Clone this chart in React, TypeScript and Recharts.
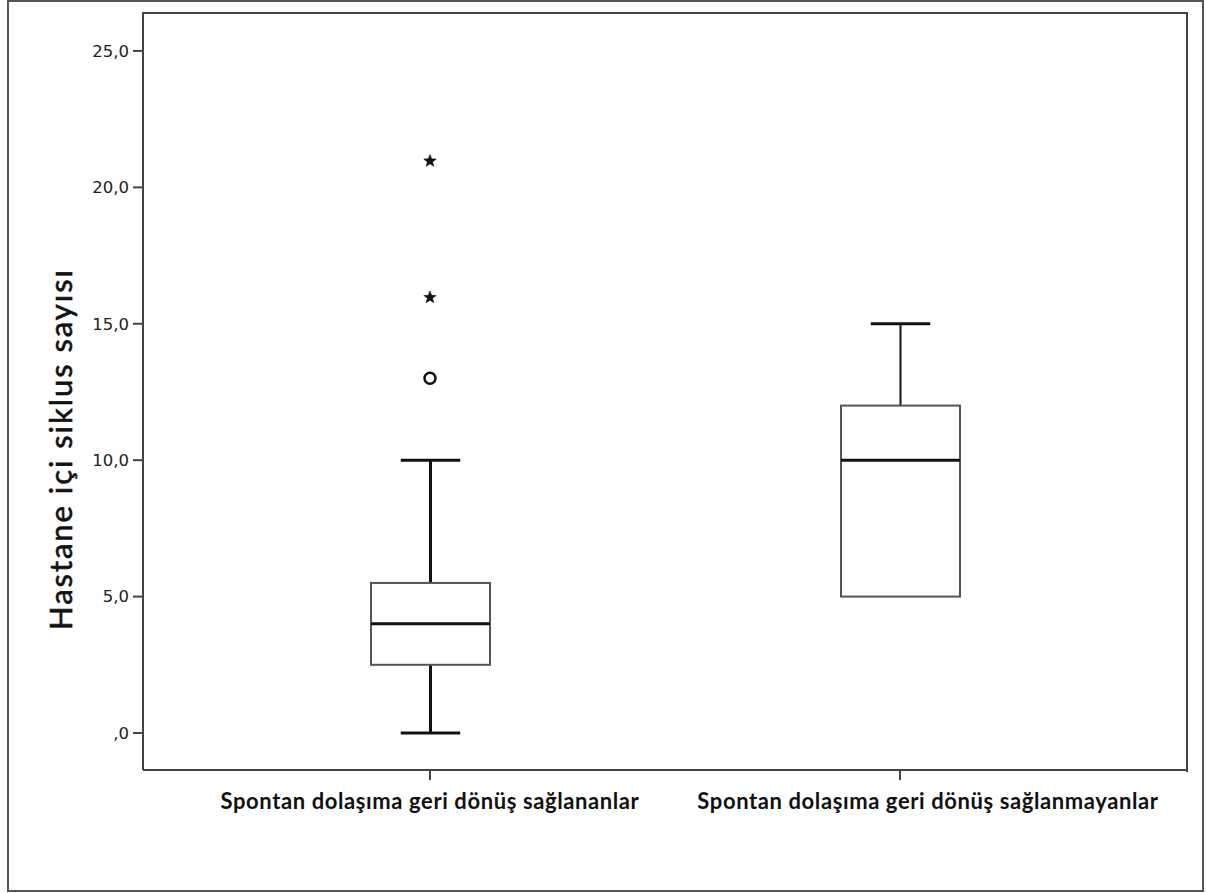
import React from "react";
import { Bar, ComposedChart, Line, XAxis, YAxis } from "recharts";

const groups = [
  "Spontan dolaşıma geri dönüş sağlananlar",
  "Spontan dolaşıma geri dönüş sağlanmayanlar",
];
const whiskerLow = [0, 5];
const q1 = [2.5, 5];
const median = [4, 10];
const q3 = [5.5, 12];
const whiskerHigh = [10, 15];
const circleOutliers = [13, null];
const starOutliersA = [16, null];
const starOutliersB = [21, null];
const yTicks = [0, 5, 10, 15, 20, 25];

const rows = groups.map((name, i) => ({
  name,
  range: [whiskerLow[i], whiskerHigh[i]],
  min: whiskerLow[i],
  q1: q1[i],
  median: median[i],
  q3: q3[i],
  max: whiskerHigh[i],
  circle: circleOutliers[i],
  starA: starOutliersA[i],
  starB: starOutliersB[i],
}));

const INK = "#111";
const EDGE = "#555";
const FRAME = "#444";

function BoxShape(props: any) {
  const { x, y, width, height, payload } = props;
  if (x == null || y == null) return null;
  const top = Math.min(y, y + height);
  const span = Math.abs(height);
  const ppu = span / (payload.max - payload.min || 1);
  const py = (v: number) => top + (payload.max - v) * ppu;
  const cx = x + width / 2;
  const cap = width / 2;
  const whiskerW = payload.min < payload.q1 ? 3 : 2;
  return (
    <g>
      {payload.max > payload.q3 && (
        <>
          <line x1={cx} x2={cx} y1={py(payload.max)} y2={py(payload.q3)} stroke={INK} strokeWidth={whiskerW} />
          <line x1={cx - cap / 2} x2={cx + cap / 2} y1={py(payload.max)} y2={py(payload.max)} stroke={INK} strokeWidth={3} />
        </>
      )}
      {payload.min < payload.q1 && (
        <>
          <line x1={cx} x2={cx} y1={py(payload.q1)} y2={py(payload.min)} stroke={INK} strokeWidth={whiskerW} />
          <line x1={cx - cap / 2} x2={cx + cap / 2} y1={py(payload.min)} y2={py(payload.min)} stroke={INK} strokeWidth={3} />
        </>
      )}
      <rect
        x={x}
        y={py(payload.q3)}
        width={width}
        height={py(payload.q1) - py(payload.q3)}
        fill="#fff"
        stroke={EDGE}
        strokeWidth={2}
      />
      <line x1={x} x2={x + width} y1={py(payload.median)} y2={py(payload.median)} stroke={INK} strokeWidth={3} />
    </g>
  );
}

function CircleDot(props: any) {
  const { cx, cy, value } = props;
  if (value == null || cy == null || isNaN(cy)) return <g key={props.key} />;
  return <circle key={props.key} cx={cx} cy={cy} r={5.5} fill="none" stroke={INK} strokeWidth={2.5} />;
}

function StarDot(props: any) {
  const { cx, cy, value } = props;
  if (value == null || cy == null || isNaN(cy)) return <g key={props.key} />;
  const pts: string[] = [];
  for (let k = 0; k < 10; k++) {
    const r = k % 2 === 0 ? 6.5 : 2.7;
    const a = -Math.PI / 2 + (k * Math.PI) / 5;
    pts.push(`${cx + r * Math.cos(a)},${cy + 1 + r * Math.sin(a)}`);
  }
  return <polygon key={props.key} points={pts.join(" ")} fill={INK} stroke={INK} strokeWidth={0.6} />;
}

function CategoryTick(props: any) {
  const { x, y, payload, index } = props;
  return (
    <text
      x={x}
      y={y + 27}
      dx={index === 1 ? 28 : 0}
      textAnchor="middle"
      fontFamily="Lato"
      fontWeight={700}
      fontSize={22}
      letterSpacing={0.6}
      fill={INK}
    >
      {payload.value}
    </text>
  );
}

const fmt = (v: number) => (v === 0 ? ",0" : v.toFixed(1).replace(".", ","));

export default function App() {
  return (
    <div style={{ position: "fixed", left: 0, top: 0, width: 1206, height: 893, background: "#fff" }}>
      <div
        style={{
          position: "absolute",
          left: 7,
          top: 0,
          width: 1193,
          height: 888,
          border: "2px solid #555",
        }}
      />
      <div
        style={{
          position: "absolute",
          left: 142,
          top: 12,
          width: 1044,
          height: 758,
          borderTop: `2px solid ${FRAME}`,
          borderRight: `2px solid ${FRAME}`,
        }}
      />
      <div style={{ position: "absolute", left: 0, top: 0 }}>
        <ComposedChart width={1206} height={893} data={rows} margin={{ top: 13, right: 19, bottom: 43, left: 43 }}>
          <XAxis
            dataKey="name"
            type="category"
            padding={{ left: 52, right: 52 }}
            axisLine={{ stroke: FRAME, strokeWidth: 2 }}
            tickLine={{ stroke: FRAME, strokeWidth: 2 }}
            tickSize={10}
            height={80}
            tick={<CategoryTick />}
            interval={0}
          />
          <YAxis
            type="number"
            domain={[-1.356, 26.39]}
            allowDataOverflow
            ticks={yTicks}
            tickFormatter={fmt}
            width={100}
            tickSize={10}
            tickMargin={4}
            axisLine={{ stroke: FRAME, strokeWidth: 2 }}
            tickLine={{ stroke: FRAME, strokeWidth: 2 }}
            tick={{ fontFamily: "DejaVu Sans", fontSize: 16.5, fill: "#222" }}
            label={{
              content: () => (
                <text
                  x={72}
                  y={450}
                  transform="rotate(-90 72 450)"
                  textAnchor="middle"
                  fontFamily="Lato"
                  fontSize={31}
                  textLength={360}
                  lengthAdjust="spacing"
                  fill={INK}
                  stroke={INK}
                  strokeWidth={0.6}
                >
                  Hastane içi siklus sayısı
                </text>
              ),
            }}
          />
          <Bar dataKey="range" barSize={119} shape={<BoxShape />} isAnimationActive={false} />
          <Line dataKey="circle" stroke="none" dot={<CircleDot />} activeDot={false} isAnimationActive={false} />
          <Line dataKey="starA" stroke="none" dot={<StarDot />} activeDot={false} isAnimationActive={false} />
          <Line dataKey="starB" stroke="none" dot={<StarDot />} activeDot={false} isAnimationActive={false} />
        </ComposedChart>
      </div>
    </div>
  );
}
